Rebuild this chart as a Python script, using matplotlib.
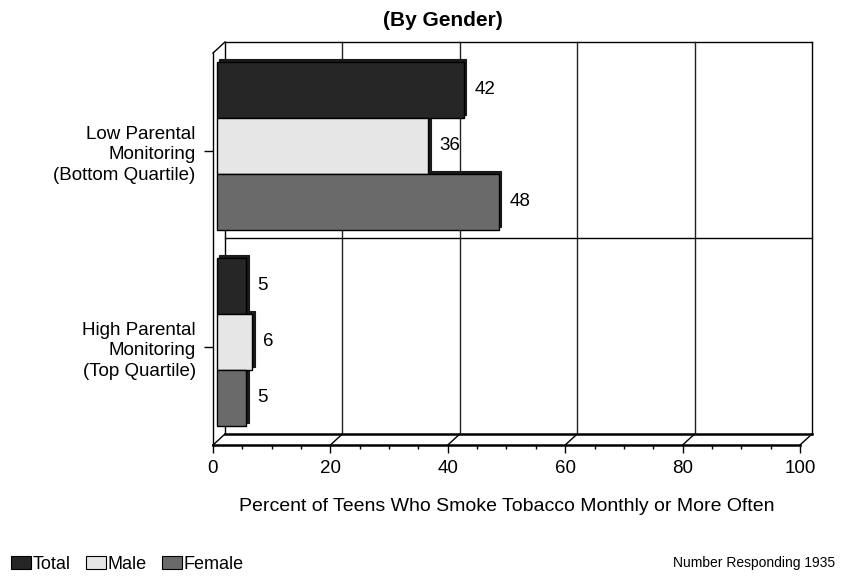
import numpy as np
import matplotlib
matplotlib.use("Agg")
import matplotlib.pyplot as plt
from matplotlib import transforms
from matplotlib.patches import Patch

plt.rcParams["font.family"] = ["Liberation Sans", "DejaVu Sans"]

# data
categories = ["Low Parental\nMonitoring\n(Bottom Quartile)", "High Parental\nMonitoring\n(Top Quartile)"]
series = ["Total", "Male", "Female"]
total = [42, 5]
male = [36, 6]
female = [48, 5]
colors = ["#262626", "#e6e6e6", "#6a6a6a"]

fs = 13

fig = plt.figure(figsize=(8.54, 5.77), dpi=100)
ax = fig.add_axes([213 / 854, 1 - 445 / 577, 587 / 854, 392 / 577])
ax.set_xlim(0, 100)
ax.set_ylim(-0.5, 1.5)

# pixel -> data helpers for the pseudo 3D depth
w_px = 587.0
h_px = 392.0
depth_dx = 12 * 100 / w_px
depth_dy = 11 * 2 / h_px

ypos = np.array([1, 0])
bh = 56 * 2 / h_px
bar_tr = transforms.offset_copy(ax.transData, fig, x=4, y=5.5, units="dots")
shadow_tr = transforms.offset_copy(ax.transData, fig, x=6.5, y=8, units="dots")

vals = [total, male, female]
for i, (name, v, c) in enumerate(zip(series, vals, colors)):
    y = ypos + (1 - i) * bh
    sh = ax.barh(y, v, height=bh, color="#1a1a1a", edgecolor="#1a1a1a", linewidth=0.8, zorder=3)
    for p in sh:
        p.set_transform(shadow_tr)
        p.set_clip_on(False)
    bars = ax.barh(y, v, height=bh, color=c, edgecolor="black", linewidth=1.0, zorder=4, label=name)
    for p in bars:
        p.set_transform(bar_tr)
        p.set_clip_on(False)
    for yy, vv in zip(y, v):
        ax.annotate(str(vv), (vv, yy), xytext=(15, 5.5), textcoords="offset pixels",
                    ha="left", va="center", fontsize=13.5, zorder=5)

# back wall
k = dict(color="black", lw=1.0, clip_on=False, zorder=1)
ax.plot([depth_dx, 100 + depth_dx], [1.5 + depth_dy] * 2, **k)
ax.plot([100 + depth_dx] * 2, [-0.5 + depth_dy, 1.5 + depth_dy], **k)
ax.plot([depth_dx] * 2, [-0.5 + depth_dy, 1.5 + depth_dy], **k)
ax.plot([depth_dx, 100 + depth_dx], [-0.5 + depth_dy] * 2, color="black", lw=1.8, clip_on=False, zorder=1)
ax.plot([depth_dx, 100 + depth_dx], [0.5 + depth_dy] * 2, **k)
for xg in [20, 40, 60, 80]:
    ax.plot([xg + depth_dx] * 2, [-0.5 + depth_dy, 1.5 + depth_dy], color="#222222", lw=1.0, clip_on=False, zorder=1)
# depth connectors
for xg in [0, 20, 40, 60, 80, 100]:
    ax.plot([xg, xg + depth_dx], [-0.5, -0.5 + depth_dy], color="black", lw=1.0, clip_on=False, zorder=2)
ax.plot([0, depth_dx], [1.5, 1.5 + depth_dy], color="black", lw=1.0, clip_on=False, zorder=2)

for s in ["top", "right"]:
    ax.spines[s].set_visible(False)
ax.spines["bottom"].set_linewidth(1.8)
ax.spines["left"].set_linewidth(1.0)
ax.set_facecolor("none")

ax.set_xticks([0, 20, 40, 60, 80, 100])
ax.set_xticks(np.arange(0, 101, 5), minor=True)
ax.tick_params(axis="x", which="major", length=6, width=1, labelsize=13.5, pad=5)
ax.tick_params(axis="x", which="minor", length=3, width=1)
ax.set_yticks(ypos)
ax.set_yticklabels(categories, fontsize=13.5, linespacing=1.3)
ax.tick_params(axis="y", length=6.5, width=1, pad=6)

ax.set_xlabel("Percent of Teens Who Smoke Tobacco Monthly or More Often", fontsize=14, labelpad=15)
fig.text(443 / 854, 1 - 20 / 577, "(By Gender)", ha="center", va="center", fontsize=15, fontweight="bold")

handles = [Patch(facecolor=c, edgecolor="black", linewidth=0.8) for c in colors]
fig.legend(handles, series, loc="lower left", bbox_to_anchor=(-0.006, -0.021), ncol=3, frameon=False,
           fontsize=fs, handlelength=1.1, handleheight=0.8, handletextpad=0.1, columnspacing=0.85)
fig.text(835 / 854, 1 - 563 / 577, "Number Responding 1935", ha="right", va="center", fontsize=10)

fig.savefig("out.png", dpi=100)
